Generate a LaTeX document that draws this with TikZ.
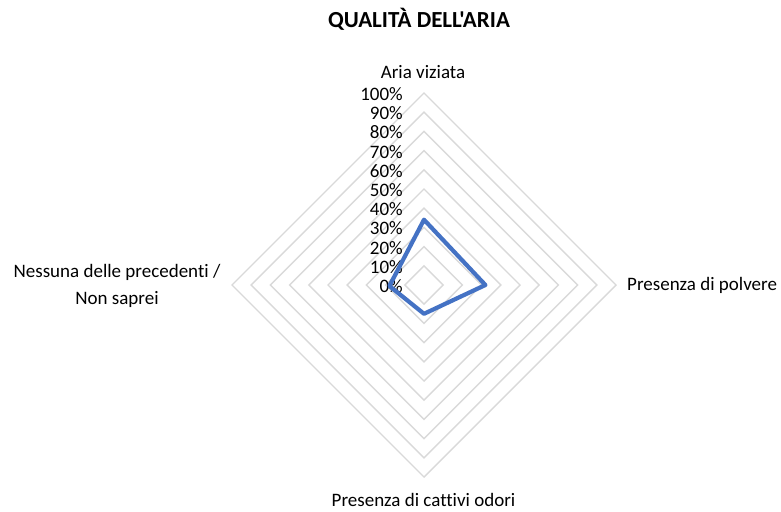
\documentclass[tikz,border=0pt]{standalone}
\usepackage{fontspec}
\setmainfont{Carlito}[Ligatures=NoCommon]
\newfontfamily\titlefont{Carlito}[Ligatures=NoCommon]
\usetikzlibrary{calc}
\definecolor{gridgray}{RGB}{217,217,217}
\definecolor{serieblue}{RGB}{68,114,196}
\tikzset{
  gridline/.style={draw=gridgray, line width=1.4pt},
  serie/.style={draw=serieblue, line width=4.2pt, line join=round},
  lbl/.style={inner sep=0pt, font=\fontsize{19}{27}\selectfont},
  ticklbl/.style={inner sep=0pt, anchor=east, font=\fontsize{19}{22}\selectfont},
  titolo/.style={inner sep=0pt, font=\titlefont\fontsize{23}{27}\selectfont\bfseries}
}
\begin{document}
\begin{tikzpicture}[x=1pt,y=-1pt]
\useasboundingbox (0,0) rectangle (781,511);
\coordinate (c) at (424,285);
\foreach \k in {1,...,10}{
  \pgfmathsetmacro{\r}{19.2*\k}
  \draw[gridline] ($(c)+(0,-\r)$) -- ($(c)+(\r,0)$) -- ($(c)+(0,\r)$) -- ($(c)+(-\r,0)$) -- cycle;
}
\foreach \k in {0,...,10}{
  \pgfmathtruncatemacro{\p}{10*\k}
  \node[ticklbl] (t\k) at (403,{286-19.2*\k}) {\p\%};
}
\coordinate (d1) at ($(c)+(0,-65.3)$);
\coordinate (d2) at ($(c)+(61.4,0)$);
\coordinate (d3) at ($(c)+(0,28.8)$);
\coordinate (d4) at ($(c)+(-34.6,1)$);
\draw[serie] (d1) -- (d2) -- (d3) -- (d4) -- cycle;
\node[titolo] (title) at (419,19) {QUALITÀ DELL'ARIA};
\node[lbl] (a1) at (423,72) {Aria viziata};
\node[lbl, anchor=west] (a2) at (627,285) {Presenza di polvere};
\node[lbl] (a3) at (423.5,500) {Presenza di cattivi odori};
\node[lbl, align=center] (a4) at (117,286) {Nessuna delle precedenti /\\Non saprei};
\end{tikzpicture}
\end{document}
